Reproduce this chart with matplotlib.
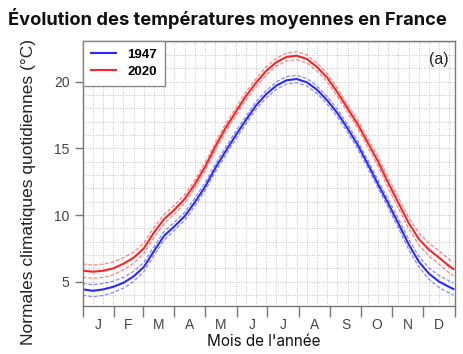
import numpy as np
import matplotlib.pyplot as plt

# jours de l'annee (0 = 1er janvier)
jours = [0, 10, 20, 30, 40, 50, 60, 70, 80, 90, 100, 110, 120, 130, 140, 150,
         160, 170, 180, 190, 200, 210, 220, 230, 240, 250, 260, 270, 280, 290,
         300, 310, 320, 330, 340, 350, 360, 364]

t_1947 = [4.43, 4.32, 4.42, 4.62, 4.92, 5.4, 6.1, 7.3, 8.45, 9.15, 9.9, 10.95,
          12.1, 13.5, 14.75, 15.95, 17.1, 18.2, 19.05, 19.7, 20.1, 20.2, 19.95,
          19.4, 18.6, 17.65, 16.5, 15.25, 13.8, 12.3, 10.85, 9.35, 7.8, 6.5,
          5.6, 5.0, 4.6, 4.45]

t_2020 = [5.83, 5.75, 5.82, 6.0, 6.35, 6.8, 7.5, 8.7, 9.7, 10.4, 11.2, 12.3,
          13.6, 15.1, 16.5, 17.7, 18.9, 19.9, 20.8, 21.45, 21.85, 21.95, 21.7,
          21.1, 20.3, 19.2, 18.0, 16.8, 15.4, 14.0, 12.4, 10.9, 9.4, 8.2, 7.4,
          6.8, 6.15, 5.95]

# demi-largeur de l'intervalle (pointilles)
ecart_1947 = [0.45, 0.45, 0.45, 0.42, 0.4, 0.38, 0.35, 0.33, 0.32, 0.3, 0.3,
              0.3, 0.3, 0.3, 0.3, 0.3, 0.28, 0.28, 0.28, 0.28, 0.28, 0.28, 0.28,
              0.28, 0.28, 0.28, 0.3, 0.3, 0.3, 0.3, 0.32, 0.35, 0.38, 0.4, 0.42,
              0.45, 0.45, 0.45]
ecart_2020 = [0.5, 0.5, 0.5, 0.48, 0.45, 0.42, 0.4, 0.38, 0.35, 0.33, 0.32,
              0.3, 0.3, 0.3, 0.3, 0.3, 0.3, 0.3, 0.3, 0.3, 0.3, 0.3, 0.3, 0.3,
              0.3, 0.3, 0.3, 0.32, 0.33, 0.35, 0.38, 0.4, 0.42, 0.45, 0.48, 0.5,
              0.5, 0.5]

mois = ["J", "F", "M", "A", "M", "J", "J", "A", "S", "O", "N", "D"]
debut_mois = [0, 31, 59, 90, 120, 151, 181, 212, 243, 273, 304, 334, 365]

bleu = "#2a2aff"
rouge = "#ff2222"
gris = "#444444"

fig = plt.figure(figsize=(4.63, 3.54), dpi=100)
ax = fig.add_axes([0.1786, 0.1356, 0.8031, 0.7494])

x = np.array(jours)
for t, e, c, lab in [(t_1947, ecart_1947, bleu, "1947"),
                     (t_2020, ecart_2020, rouge, "2020")]:
    t = np.array(t)
    e = np.array(e)
    ax.plot(x, t + e, color=c, lw=0.9, ls=(0, (3, 1.5)), alpha=0.55)
    ax.plot(x, t - e, color=c, lw=0.9, ls=(0, (3, 1.5)), alpha=0.55)
    ax.plot(x, t, color=c, lw=1.5, label=lab)

ax.set_xlim(0, 365)
ax.set_ylim(3.18, 23.07)

ax.set_xticks(debut_mois)
ax.set_xticklabels([])
ax.set_xticks([(debut_mois[i] + debut_mois[i + 1]) / 2 for i in range(12)], minor=True)
ax.set_xticklabels(mois, minor=True, fontsize=10, color=gris, family="Liberation Sans")
ax.tick_params(axis="x", which="major", length=8, width=1, color="#777777", direction="out")
ax.tick_params(axis="x", which="minor", length=0, pad=9)

ax.set_yticks([5, 10, 15, 20])
ax.set_yticklabels(["5", "10", "15", "20"], fontsize=10, color=gris, family="Liberation Sans")
ax.tick_params(axis="y", length=6, width=1, color="#777777")

# grille pointillee
for v in np.arange(10, 365, 10):
    ax.axvline(v, color="#c4c4c4", lw=0.7, ls=(0, (1, 1.5)), zorder=0)
for v in np.arange(4, 24, 1):
    ax.axhline(v, color="#c4c4c4", lw=0.7, ls=(0, (1, 1.5)), zorder=0)

for s in ax.spines.values():
    s.set_color("#777777")
    s.set_linewidth(1)

leg = ax.legend(loc="upper left", bbox_to_anchor=(0, 1), borderaxespad=0,
                fancybox=False, framealpha=1, edgecolor="#888888",
                prop={"family": "Liberation Sans", "weight": "bold", "size": 9.5},
                handlelength=1.9, handletextpad=0.9, borderpad=0.6, labelspacing=0.35)
leg.get_frame().set_linewidth(1)

ax.text(0.985, 0.93, "(a)", transform=ax.transAxes, ha="right", va="center",
        fontsize=11.5, color="#222222", family="Liberation Sans")

ax.set_ylabel("Normales climatiques quotidiennes (°C)", fontsize=12.5, color="#222222",
              family="Liberation Sans")
ax.yaxis.set_label_coords(-0.125, 0.43)
ax.set_xlabel("Mois de l'année", fontsize=11, color="#111111", family="Inter")
ax.xaxis.set_label_coords(0.487, -0.105)

fig.text(0.017, 0.948, "Évolution des températures moyennes en France", fontsize=13.2,
         weight="bold", family="Inter", ha="left", va="center", color="#111111")

fig.savefig("out.png", dpi=100)
